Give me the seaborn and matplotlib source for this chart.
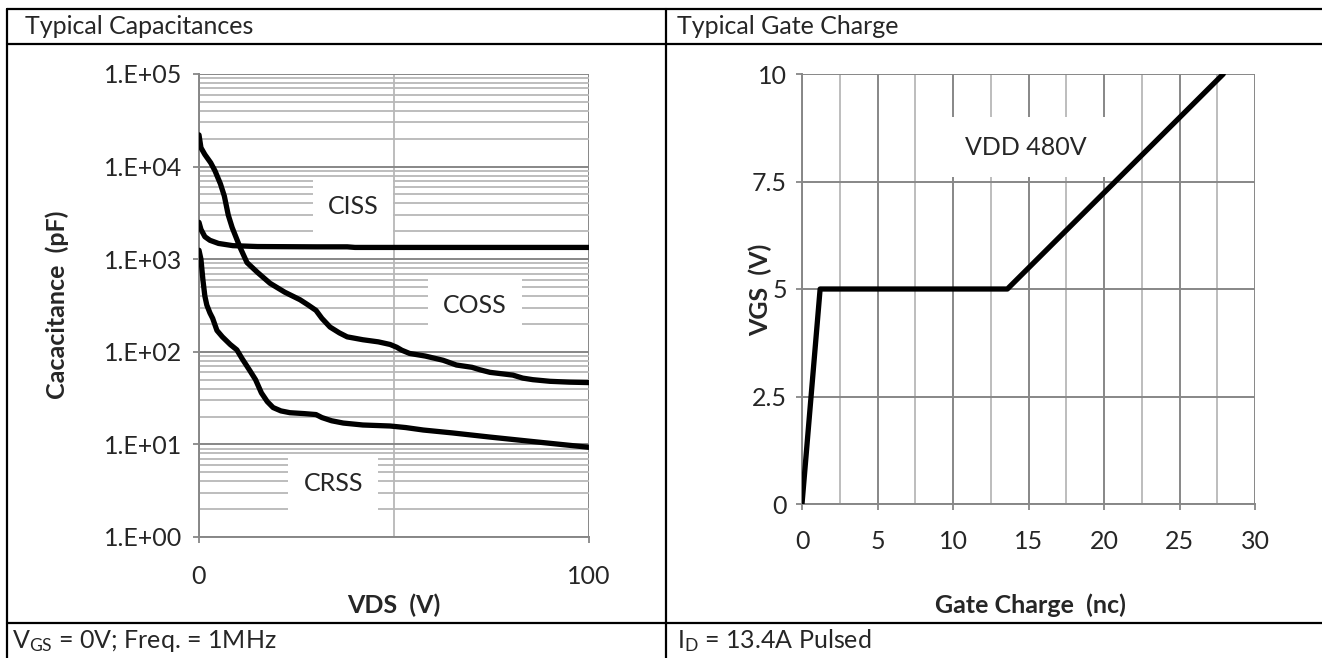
import numpy as np
import pandas as pd
import matplotlib
matplotlib.use("Agg")
import matplotlib.pyplot as plt
import seaborn as sns
from matplotlib.lines import Line2D
from matplotlib.ticker import FixedLocator, FuncFormatter, LogLocator, NullFormatter

# ---------------- data ----------------
# Typical capacitances vs VDS (pF)
ciss_vds = [0, 0.5, 1.5, 2.8, 5, 8.7, 15, 30, 38, 40, 60, 100]
ciss_pf = [2500, 2100, 1750, 1600, 1480, 1400, 1370, 1360, 1360, 1340, 1340, 1340]

coss_vds = [0, 0.5, 1.5, 3, 4.1, 5.5, 6.5, 7.5, 8.5, 10.5, 12.3, 15, 18.2, 22, 25.9,
            28, 30, 31.5, 33.6, 36, 38, 42, 46, 49, 50.7, 52, 54, 58, 62.6, 66, 70,
            72, 74.6, 80.5, 83, 85.6, 90, 95, 100]
coss_pf = [22000, 16000, 13500, 11000, 9000, 6500, 4800, 3000, 2200, 1350, 920, 720,
           550, 440, 365, 320, 280, 230, 185, 160, 145, 135, 128, 120, 112, 104, 96,
           90, 81, 72, 68, 64, 60, 56, 52, 50, 48, 47, 46.5]

crss_vds = [0, 0.5, 1.0, 1.5, 2.0, 2.8, 3.5, 4.6, 6, 8, 9.7, 11, 13, 14.5, 16, 17.5,
            19, 21, 23.3, 27, 30, 31.5, 34, 37, 42, 49, 53, 57.5, 65, 74.6, 85, 100]
crss_pf = [1250, 1000, 600, 400, 320, 263, 230, 170, 145, 120, 105, 85, 63, 50, 36, 29,
           25, 23, 22, 21.5, 21, 19.5, 18, 17, 16.2, 15.8, 15.2, 14.3, 13.3, 12, 10.8, 9.3]

cap_labels = ["CISS", "COSS", "CRSS"]
cap_label_pos_vds = [39.5, 70.8, 34.4]
cap_label_pos_pf = [3700, 316, 3.8]
cap_yticks = [1, 10, 100, 1000, 10000, 100000]
cap_xticks = [0, 100]

# Typical gate charge
qg_nc = [0, 1.2, 13.6, 27.9]
vgs_v = [0, 5, 5, 10]
gc_xticks = [0, 5, 10, 15, 20, 25, 30]
gc_yticks = [0, 2.5, 5, 7.5, 10]
gc_ytick_labels = ["0", "2.5", "5", "7.5", "10"]

# ---------------- style ----------------
sns.set_style("white")
plt.rcParams["font.family"] = ["Lato", "DejaVu Sans"]
plt.rcParams["mathtext.fontset"] = "custom"
plt.rcParams["mathtext.rm"] = "Lato"
plt.rcParams["mathtext.default"] = "rm"

W, H = 1322, 658
fig = plt.figure(figsize=(W / 100, H / 100), dpi=100)
fig.patch.set_facecolor("white")

MAJ = "#878787"
MIN = "#b8b8b8"
FS = 18

# ---------------- table frame ----------------
def hline(y, x0=7, x1=W):
    fig.add_artist(Line2D([x0 / W, x1 / W], [1 - y / H, 1 - y / H], transform=fig.transFigure,
                          color="black", lw=1.6))

def vline(x, y0=9, y1=H):
    fig.add_artist(Line2D([x / W, x / W], [1 - y0 / H, 1 - y1 / H], transform=fig.transFigure,
                          color="black", lw=1.6))

hline(9)
hline(44)
hline(623)
vline(7)
vline(666)

fig.text(25 / W, 1 - 27 / H, "Typical Capacitances", fontsize=FS, ha="left", va="center")
fig.text(677 / W, 1 - 27 / H, "Typical Gate Charge", fontsize=FS, ha="left", va="center")
fig.text(12 / W, 1 - 641 / H, r"V$_{\mathregular{GS}}$ = 0V; Freq. = 1MHz", fontsize=FS, ha="left", va="center")
fig.text(677 / W, 1 - 641 / H, r"I$_{\mathregular{D}}$ = 13.4A Pulsed", fontsize=FS, ha="left", va="center")

# axis titles placed by their centres
fig.text(394 / W, 1 - 605 / H, "VDS  (V)", fontsize=FS, fontweight="bold", ha="center", va="center")
fig.text(57 / W, 1 - 305 / H, "Cacacitance  (pF)", fontsize=FS, fontweight="bold", ha="center",
         va="center", rotation=90)
fig.text(1030 / W, 1 - 605 / H, "Gate Charge  (nc)", fontsize=FS, fontweight="bold", ha="center", va="center")
fig.text(760 / W, 1 - 290 / H, "VGS  (V)", fontsize=FS, fontweight="bold", ha="center",
         va="center", rotation=90)

# ---------------- left: capacitances ----------------
ax1 = fig.add_axes([199 / W, 121 / H, 390 / W, 463 / H])
cap_df = pd.concat([
    pd.DataFrame({"vds": ciss_vds, "pf": ciss_pf, "s": "CISS"}),
    pd.DataFrame({"vds": coss_vds, "pf": coss_pf, "s": "COSS"}),
    pd.DataFrame({"vds": crss_vds, "pf": crss_pf, "s": "CRSS"}),
])
sns.lineplot(data=cap_df, x="vds", y="pf", hue="s", palette=["black"] * 3, estimator=None,
             sort=False, lw=3.8, legend=False, ax=ax1, zorder=3)
ax1.set_yscale("log")
ax1.set_xlim(0, 100)
ax1.set_ylim(1, 1e5)
ax1.yaxis.set_major_locator(FixedLocator(cap_yticks))
ax1.yaxis.set_major_formatter(FuncFormatter(lambda v, p: "1.E+%02d" % int(round(np.log10(v)))))
ax1.yaxis.set_minor_locator(LogLocator(base=10, subs=np.arange(2, 10)))
ax1.yaxis.set_minor_formatter(NullFormatter())
ax1.xaxis.set_major_locator(FixedLocator(cap_xticks))
ax1.xaxis.set_minor_locator(FixedLocator([50]))
ax1.set_axisbelow(True)
ax1.grid(which="major", axis="both", color=MAJ, lw=1.4)
ax1.grid(which="minor", axis="y", color=MIN, lw=1.3)
ax1.grid(which="minor", axis="x", color=MIN, lw=1.3)
for s in ["top", "right"]:
    ax1.spines[s].set_visible(False)
for s in ["left", "bottom"]:
    ax1.spines[s].set_color(MAJ)
    ax1.spines[s].set_linewidth(1.4)
ax1.tick_params(axis="y", which="major", left=True, length=4.5, width=1.3, color=MAJ,
                labelsize=FS, pad=7.5)
ax1.tick_params(axis="x", which="major", bottom=True, length=4.5, width=1.3, color=MAJ,
                labelsize=FS, pad=16)
ax1.tick_params(which="minor", length=0)
ax1.set_xlabel("")
ax1.set_ylabel("")
for lab, x, y in zip(cap_labels, cap_label_pos_vds, cap_label_pos_pf):
    ax1.text(x, y, lab, fontsize=FS, ha="center", va="center", zorder=2,
             bbox=dict(facecolor="white", edgecolor="none", boxstyle="square,pad=0.6"))

# ---------------- right: gate charge ----------------
ax2 = fig.add_axes([802 / W, 154 / H, 453 / W, 430 / H])
gc_df = pd.DataFrame({"qg": qg_nc, "vgs": vgs_v})
sns.lineplot(data=gc_df, x="qg", y="vgs", estimator=None, sort=False, color="black",
             lw=3.8, ax=ax2, zorder=3)
ax2.set_xlim(0, 30)
ax2.set_ylim(0, 10)
ax2.xaxis.set_major_locator(FixedLocator(gc_xticks))
ax2.xaxis.set_minor_locator(FixedLocator([2.5, 7.5, 12.5, 17.5, 22.5, 27.5]))
ax2.yaxis.set_major_locator(FixedLocator(gc_yticks))
ax2.yaxis.set_major_formatter(FuncFormatter(lambda v, p: gc_ytick_labels[gc_yticks.index(v)] if v in gc_yticks else ""))
ax2.set_axisbelow(True)
ax2.grid(which="major", axis="both", color=MAJ, lw=1.4)
ax2.grid(which="minor", axis="x", color=MIN, lw=1.3)
for s in ["top", "right"]:
    ax2.spines[s].set_visible(False)
for s in ["left", "bottom"]:
    ax2.spines[s].set_color(MAJ)
    ax2.spines[s].set_linewidth(1.4)
ax2.tick_params(axis="y", which="major", left=True, length=4.5, width=1.3, color=MAJ,
                labelsize=FS, pad=6.3)
ax2.tick_params(axis="x", which="major", bottom=True, length=4.5, width=1.3, color=MAJ,
                labelsize=FS, pad=14)
ax2.tick_params(which="minor", length=0)
ax2.set_xlabel("")
ax2.set_ylabel("")
ax2.text(14.8, 8.3, "VDD 480V", fontsize=FS, ha="center", va="center", zorder=2,
         bbox=dict(facecolor="white", edgecolor="none", boxstyle="square,pad=0.75"))

fig.savefig("out.png", dpi=100, facecolor="white")
